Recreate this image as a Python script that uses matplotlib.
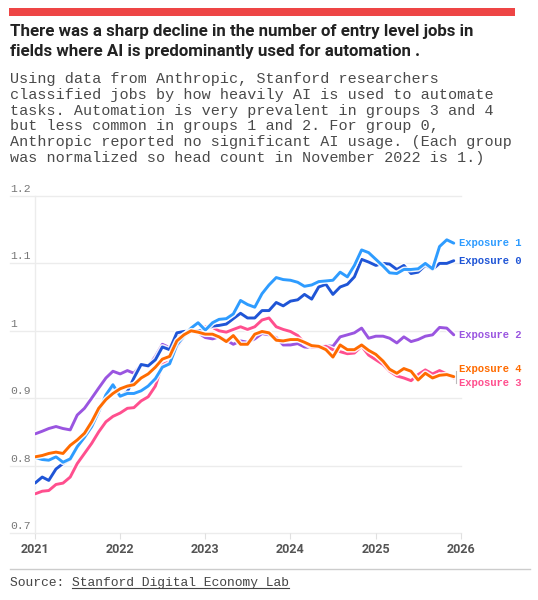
import numpy as np
import pandas as pd
import matplotlib
matplotlib.use("Agg")
import matplotlib.pyplot as plt
import matplotlib.patheffects as pe
import matplotlib.transforms as mtransforms
from matplotlib.lines import Line2D
from matplotlib.patches import Rectangle

# monthly head count, normalized to Nov 2022 = 1 (Jan 2021 .. Dec 2025)
months = pd.date_range("2021-01-01", periods=60, freq="MS")

exposure_0 = [0.774, 0.783, 0.778, 0.795, 0.803, 0.809, 0.828, 0.843, 0.857, 0.880,
              0.900, 0.918, 0.902, 0.910, 0.930, 0.950, 0.948, 0.957, 0.976, 0.972,
              0.997, 0.999, 1.000, 1.000, 1.002, 1.007, 1.008, 1.010, 1.018, 1.026,
              1.019, 1.019, 1.030, 1.030, 1.042, 1.037, 1.044, 1.046, 1.054, 1.047,
              1.065, 1.069, 1.054, 1.065, 1.069, 1.080, 1.106, 1.102, 1.097, 1.100,
              1.099, 1.091, 1.097, 1.085, 1.087, 1.097, 1.091, 1.100, 1.100, 1.104]

exposure_1 = [0.812, 0.809, 0.808, 0.813, 0.805, 0.810, 0.828, 0.842, 0.858, 0.880,
              0.905, 0.920, 0.903, 0.907, 0.907, 0.911, 0.918, 0.929, 0.946, 0.951,
              0.979, 0.992, 1.004, 1.012, 1.001, 1.012, 1.017, 1.018, 1.025, 1.045,
              1.039, 1.035, 1.055, 1.068, 1.079, 1.076, 1.075, 1.072, 1.066, 1.068,
              1.073, 1.074, 1.075, 1.087, 1.080, 1.097, 1.120, 1.116, 1.106, 1.096,
              1.086, 1.085, 1.091, 1.091, 1.092, 1.100, 1.092, 1.125, 1.135, 1.130]

exposure_2 = [0.847, 0.851, 0.855, 0.858, 0.855, 0.853, 0.875, 0.885, 0.900, 0.915,
              0.930, 0.940, 0.936, 0.941, 0.937, 0.950, 0.947, 0.962, 0.980, 0.975,
              0.993, 0.998, 1.000, 0.997, 0.990, 0.988, 0.991, 0.986, 0.980, 0.985,
              0.983, 0.988, 0.996, 0.994, 0.990, 0.979, 0.979, 0.981, 0.976, 0.975,
              0.976, 0.978, 0.977, 0.991, 0.994, 0.997, 1.004, 0.989, 0.992, 0.992,
              0.989, 0.982, 0.991, 0.984, 0.987, 0.992, 0.994, 1.005, 1.004, 0.994]

exposure_3 = [0.758, 0.762, 0.763, 0.772, 0.774, 0.783, 0.803, 0.818, 0.833, 0.850,
              0.865, 0.873, 0.878, 0.885, 0.886, 0.896, 0.902, 0.918, 0.950, 0.954,
              0.976, 0.991, 0.999, 0.997, 1.006, 1.005, 1.000, 0.998, 1.002, 1.006,
              1.002, 1.006, 1.016, 1.019, 1.006, 1.002, 0.999, 0.993, 0.982, 0.976,
              0.975, 0.977, 0.972, 0.969, 0.966, 0.967, 0.977, 0.964, 0.957, 0.950,
              0.940, 0.933, 0.930, 0.926, 0.935, 0.942, 0.936, 0.941, 0.936, 0.930]

exposure_4 = [0.813, 0.815, 0.818, 0.820, 0.818, 0.830, 0.838, 0.848, 0.865, 0.885,
              0.898, 0.907, 0.914, 0.918, 0.920, 0.930, 0.936, 0.946, 0.958, 0.962,
              0.985, 0.994, 1.000, 0.998, 0.995, 0.995, 0.991, 0.984, 0.993, 0.980,
              0.980, 0.995, 0.999, 0.997, 0.986, 0.985, 0.987, 0.987, 0.983, 0.978,
              0.977, 0.972, 0.961, 0.979, 0.972, 0.972, 0.979, 0.971, 0.965, 0.955,
              0.943, 0.937, 0.944, 0.940, 0.927, 0.937, 0.930, 0.934, 0.935, 0.932]

series_names = ["Exposure 2", "Exposure 3", "Exposure 0", "Exposure 1", "Exposure 4"]
series_values = [exposure_2, exposure_3, exposure_0, exposure_1, exposure_4]
colors = {"Exposure 0": "#1f55d6", "Exposure 1": "#2e9cff", "Exposure 2": "#9a55e0",
          "Exposure 3": "#ff4f8e", "Exposure 4": "#ff6b00"}
# small nudges so the end labels don't collide
label_nudge = {"Exposure 4": 0.012, "Exposure 3": -0.008}

y_ticks = [0.7, 0.8, 0.9, 1.0, 1.1, 1.2]
y_tick_labels = ["0.7", "0.8", "0.9", "1", "1.1", "1.2"]
x_years = [2021, 2022, 2023, 2024, 2025, 2026]

title = ("There was a sharp decline in the number of entry level jobs in\n"
         "fields where AI is predominantly used for automation .")
subtitle = ("Using data from Anthropic, Stanford researchers\n"
            "classified jobs by how heavily AI is used to automate\n"
            "tasks. Automation is very prevalent in groups 3 and 4\n"
            "but less common in groups 1 and 2. For group 0,\n"
            "Anthropic reported no significant AI usage. (Each group\n"
            "was normalized so head count in November 2022 is 1.)")

W, H = 538, 600
fig = plt.figure(figsize=(W / 100, H / 100), dpi=100)
fig.patch.set_facecolor("white")

# red bar on top
fig.add_artist(Rectangle((9 / W, 1 - 16 / H), 506 / W, 8.5 / H,
                         transform=fig.transFigure, color="#ee4545", lw=0))

fig.text(10 / W, 1 - 24 / H, title, ha="left", va="top", fontsize=12.2,
         fontweight="bold", family="Roboto", color="#222222", linespacing=1.38)
fig.text(10 / W, 1 - 72 / H, subtitle, ha="left", va="top", fontsize=10.9,
         family="Liberation Mono", color="#4a4a4a", linespacing=1.16)

ax = fig.add_axes([35 / W, 1 - 533 / H, 426 / W, 337 / H])
ax.set_xlim(pd.Timestamp("2021-01-01"), pd.Timestamp("2026-01-01"))
ax.set_ylim(0.7, 1.2)
for s in ax.spines.values():
    s.set_visible(False)
ax.spines["left"].set_visible(True)
ax.spines["left"].set_color("#ececec")
ax.spines["left"].set_linewidth(1)

trans = mtransforms.blended_transform_factory(ax.transAxes, ax.transData)
left = (10 - 35) / 426
for yv, lab in zip(y_ticks, y_tick_labels):
    ax.axhline(yv, xmin=left, xmax=1, color="#ececec", lw=1, clip_on=False, zorder=0)
    ax.annotate(lab, (left, yv), xycoords=trans, xytext=(0, 1.5),
                textcoords="offset points", ha="left", va="bottom",
                fontsize=8.2, family="Liberation Mono", color="#777777")
ax.set_yticks([])

ax.set_xticks([pd.Timestamp(f"{y}-01-01") for y in x_years])
ax.set_xticklabels([str(y) for y in x_years], fontsize=9, fontweight="bold",
                   family="Roboto", color="#555555")
ax.tick_params(axis="x", length=4, color="#e0e0e0", pad=3)

for name, vals in zip(series_names, series_values):
    ax.plot(months, vals, color=colors[name], lw=2.1, solid_joinstyle="round",
            solid_capstyle="round", zorder=3,
            path_effects=[pe.Stroke(linewidth=4.2, foreground="white", alpha=0.9),
                          pe.Normal()])
    ax.annotate(name, (months[-1], vals[-1] + label_nudge.get(name, 0)),
                xytext=(4, 0), textcoords="offset points", ha="left",
                va="center", fontsize=7.6, fontweight="bold",
                family="Liberation Mono", color=colors[name], annotation_clip=False)

# tiny bracket joining exposure 3 and 4 end labels
bx = ax.transData.transform((matplotlib.dates.date2num(months[-1]), 0))[0] + 2
y_top = ax.transData.transform((0, exposure_4[-1] + 0.008))[1]
y_bot = ax.transData.transform((0, exposure_3[-1] - 0.008))[1]
fig.add_artist(Line2D([bx / W, bx / W], [y_bot / H, y_top / H], color="#bbbbbb",
                      lw=0.8, transform=fig.transFigure))

# bottom rule and source
fig.add_artist(Line2D([10 / W, 530 / W], [1 - 569 / H, 1 - 569 / H],
                      color="#cccccc", lw=1, transform=fig.transFigure))
t1 = fig.text(10 / W, 1 - 583 / H, "Source: ", ha="left", va="center",
              fontsize=9.4, family="Liberation Mono", color="#444444")
fig.canvas.draw()
bb1 = t1.get_window_extent()
t2 = fig.text(bb1.x1 / W, 1 - 583 / H, "Stanford Digital Economy Lab", ha="left",
              va="center", fontsize=9.4, family="Liberation Mono", color="#444444")
fig.canvas.draw()
bb2 = t2.get_window_extent()
uy = (bb2.y0 + 1) / H
fig.add_artist(Line2D([bb2.x0 / W, bb2.x1 / W], [uy, uy], color="#444444",
                      lw=0.8, transform=fig.transFigure))

fig.savefig("out.png", dpi=100, facecolor="white")
